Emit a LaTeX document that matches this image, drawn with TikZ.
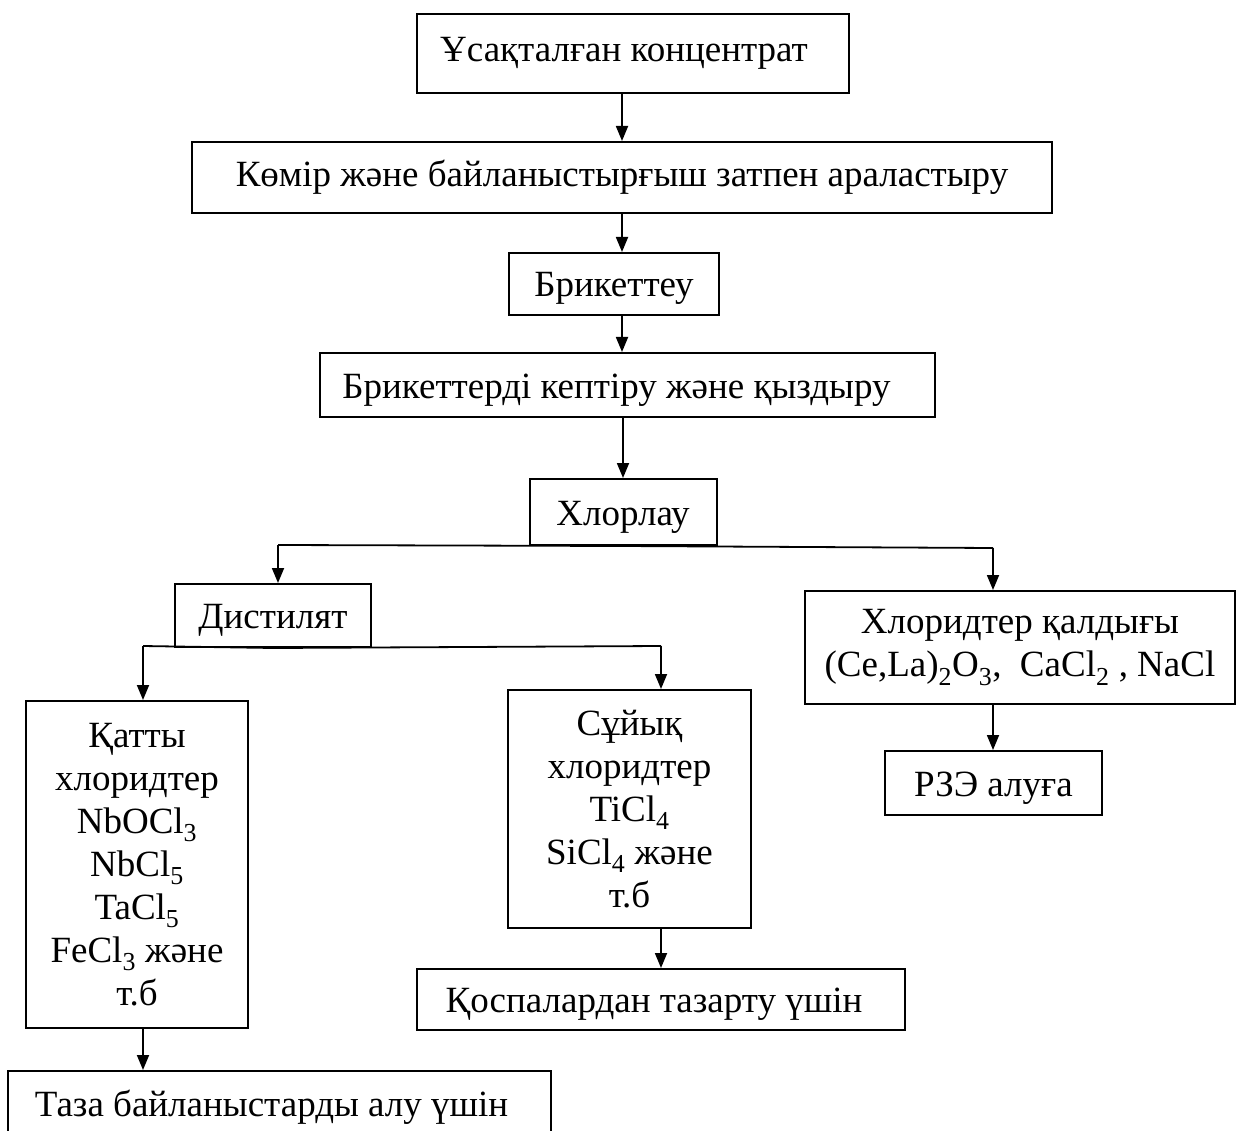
\documentclass[tikz,border=0pt]{standalone}
\usepackage{fontspec}
\setmainfont{Liberation Serif}
\usetikzlibrary{arrows.meta}
\begin{document}
\begin{tikzpicture}[x=1pt,y=-1pt,
  box/.style={draw, line width=2pt, rectangle, inner sep=0pt, align=center,
    font=\fontsize{37}{43}\selectfont},
  low/.style={text height=32pt, text depth=6pt},
  arr/.style={line width=1.8pt, -{Triangle[length=15pt,width=12pt]}},
  ln/.style={line width=1.8pt}]
\useasboundingbox (0,0) rectangle (1236,1131);
\node[box, minimum width=432pt, minimum height=79pt] (n1) at (633,53.5) {Ұсақталған концентрат\hspace*{18pt}};
\node[box, minimum width=860pt, minimum height=71pt] (n2) at (622,177.5) {Көмір және байланыстырғыш затпен араластыру};
\node[box, low, minimum width=210pt, minimum height=62pt] (n3) at (614,284) {Брикеттеу};
\node[box, low, minimum width=615pt, minimum height=64pt] (n4) at (627.5,385) {Брикеттерді кептіру және қыздыру\hspace*{22pt}};
\node[box, low, minimum width=187pt, minimum height=66pt] (n5) at (623,512) {Хлорлау};
\node[box, low, minimum width=196pt, minimum height=63pt] (dist) at (273,615.5) {Дистилят};
\node[box, minimum width=430pt, minimum height=113pt] (resid) at (1020,647.5) {Хлоридтер қалдығы\\(Ce,La)\textsubscript{2}O\textsubscript{3},\ \ CaCl\textsubscript{2} , NaCl};
\node[box, minimum width=222pt, minimum height=327pt] (solid) at (137,864.5) {Қатты\\хлоридтер\\NbOCl\textsubscript{3}\\NbCl\textsubscript{5}\\TaCl\textsubscript{5}\\FeCl\textsubscript{3} және\\т.б};
\node[box, minimum width=243pt, minimum height=238pt] (liquid) at (629.5,809) {Сұйық\\хлоридтер\\TiCl\textsubscript{4}\\SiCl\textsubscript{4} және\\т.б};
\node[box, low, minimum width=217pt, minimum height=64pt] (rze) at (993.5,783) {РЗЭ алуға};
\node[box, low, minimum width=488pt, minimum height=61pt] (purif) at (661,999.5) {Қоспалардан тазарту үшін\hspace*{14pt}};
\node[box, low, minimum width=543pt, minimum height=64pt] (pure) at (279.5,1103) {Таза байланыстарды алу үшін\hspace*{16pt}};
\coordinate (sL) at (278,545);
\coordinate (sR) at (993,548);
\coordinate (dL) at (143,646);
\coordinate (dR) at (661,646);
\draw[arr] (n2.north |- n1.south) -- (n2.north);
\draw[arr] (n2.south) -- (n2.south |- n3.north);
\draw[arr] (n2.south |- n3.south) -- (n2.south |- n4.north);
\draw[arr] (n5.north |- n4.south) -- (n5.north);
\draw[ln] (sL) -- (n5.south) -- (sR);
\draw[arr] (sL) -- (sL |- dist.north);
\draw[arr] (sR) -- (sR |- resid.north);
\draw[ln] (dL) -- (dist.south) -- (dR);
\draw[arr] (dL) -- (dL |- solid.north);
\draw[arr] (dR) -- (dR |- liquid.north);
\draw[arr] (dL |- solid.south) -- (dL |- pure.north);
\draw[arr] (dR |- liquid.south) -- (dR |- purif.north);
\draw[arr] (sR |- resid.south) -- (sR |- rze.north);
\end{tikzpicture}
\end{document}
